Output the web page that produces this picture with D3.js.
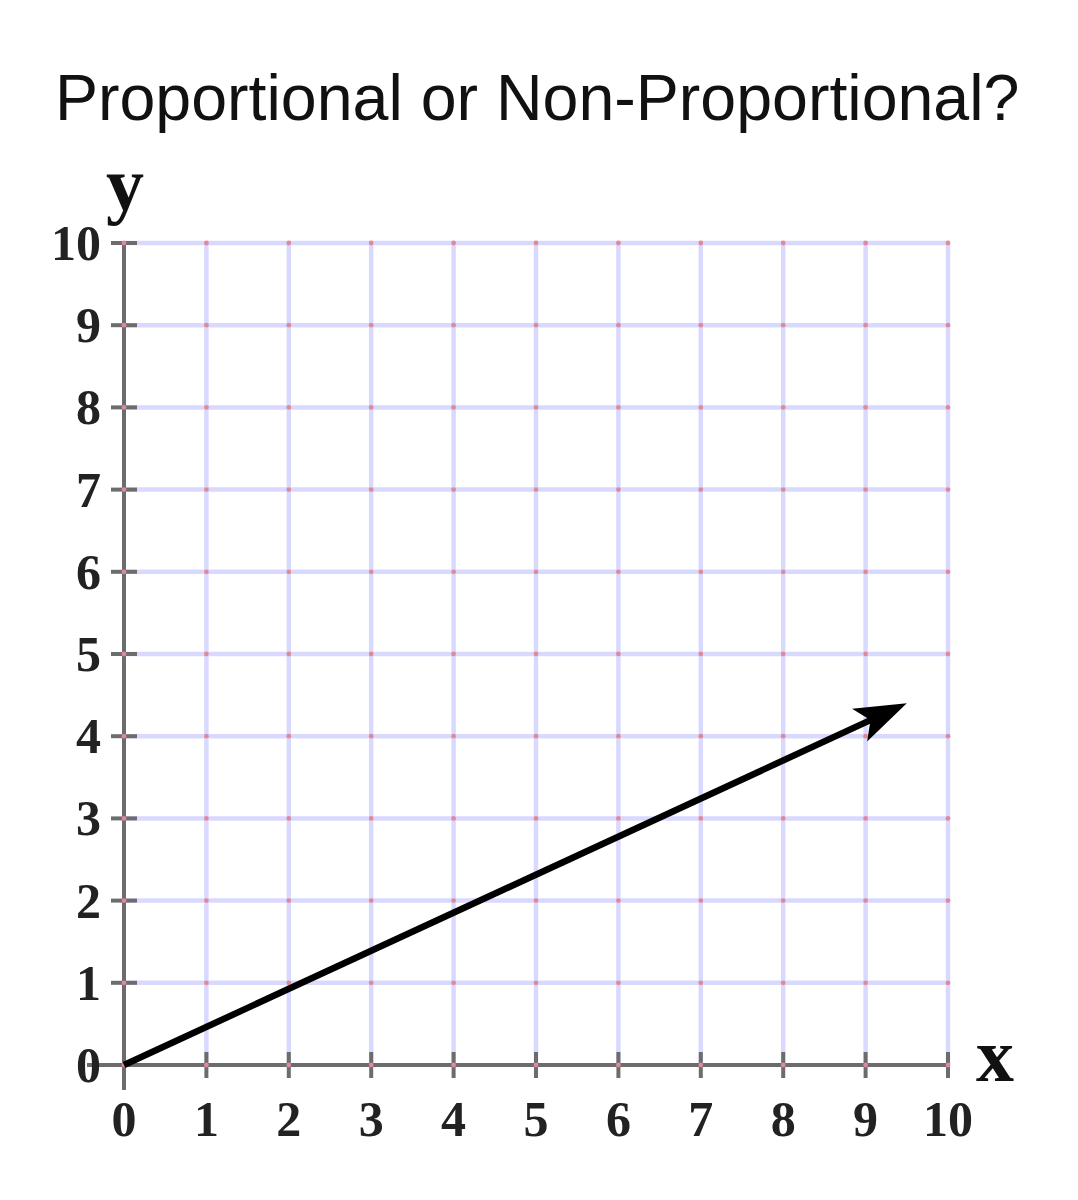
<!DOCTYPE html>
<html><head><meta charset="utf-8">
<script src="https://cdn.jsdelivr.net/npm/d3@7"></script>
<style>html,body{margin:0;padding:0;background:#fff;}svg{display:block;}</style>
</head><body>
<svg id="chart" width="1078" height="1200"></svg>
<script>
const title = "Proportional or Non-Proportional?";
const xTicks = [0,1,2,3,4,5,6,7,8,9,10];
const yTicks = [0,1,2,3,4,5,6,7,8,9,10];
const lineX = [0, 9.5];
const lineY = [0, 4.4];
const xAxisLabel = "x";
const yAxisLabel = "y";

const svg = d3.select("#chart");
const x = d3.scaleLinear().domain([0,10]).range([124,948]);
const y = d3.scaleLinear().domain([0,10]).range([1065,243]);

svg.append("text").attr("x",55).attr("y",120)
  .attr("font-family","Liberation Sans, Arial, sans-serif").attr("font-size",64.5)
  .attr("fill","#111").text(title);

// grid
const grid = svg.append("g");
grid.selectAll(".gx").data(xTicks.filter(d=>d>0)).join("line")
  .attr("x1",d=>x(d)).attr("x2",d=>x(d)).attr("y1",y(0)).attr("y2",y(10))
  .attr("stroke","#d9d9ff").attr("stroke-width",4.5);
grid.selectAll(".gy").data(yTicks.filter(d=>d>0)).join("line")
  .attr("y1",d=>y(d)).attr("y2",d=>y(d)).attr("x1",x(0)).attr("x2",x(10))
  .attr("stroke","#d9d9ff").attr("stroke-width",4.5);

// axes
const ax = svg.append("g").attr("stroke","#6c6c6c").attr("stroke-width",4);
ax.append("line").attr("x1",87).attr("x2",x(10)).attr("y1",y(0)).attr("y2",y(0));
ax.append("line").attr("x1",x(0)).attr("x2",x(0)).attr("y1",y(10)).attr("y2",1090);
ax.selectAll(".tx").data(xTicks.filter(d=>d>0)).join("line")
  .attr("x1",d=>x(d)).attr("x2",d=>x(d)).attr("y1",y(0)-13).attr("y2",y(0)+13);
ax.selectAll(".ty").data(yTicks.filter(d=>d>0)).join("line")
  .attr("y1",d=>y(d)).attr("y2",d=>y(d)).attr("x1",x(0)-13).attr("x2",x(0)+13);

// red dots at intersections
const pts = [];
xTicks.forEach(a=>yTicks.forEach(b=>pts.push([a,b])));
svg.append("g").selectAll("circle").data(pts).join("circle")
  .attr("cx",d=>x(d[0])).attr("cy",d=>y(d[1])).attr("r",2.4)
  .attr("fill","#e0899a");

// tick labels
const lf = "Liberation Serif, Times New Roman, serif";
svg.append("g").selectAll("text").data(xTicks).join("text")
  .attr("x",d=>x(d)).attr("y",1136).attr("text-anchor","middle")
  .attr("font-family",lf).attr("font-weight","bold").attr("font-size",50)
  .attr("fill","#222").text(d=>d);
svg.append("g").selectAll("text").data(yTicks).join("text")
  .attr("x",101).attr("y",d=>y(d)+17).attr("text-anchor","end")
  .attr("font-family",lf).attr("font-weight","bold").attr("font-size",50)
  .attr("fill","#222").text(d=>d);

svg.append("text").attr("x",125).attr("y",210).attr("text-anchor","middle")
  .attr("font-family",lf).attr("font-weight","bold").attr("font-size",76)
  .attr("fill","#111").text(yAxisLabel);
svg.append("text").attr("x",995).attr("y",1081).attr("text-anchor","middle")
  .attr("font-family",lf).attr("font-weight","bold").attr("font-size",76)
  .attr("fill","#111").text(xAxisLabel);

// arrow line
const data = lineX.map((d,i)=>[d,lineY[i]]);
const p0 = [x(data[0][0]), y(data[0][1])];
const p1 = [x(data[1][0]), y(data[1][1])];
const ang = Math.atan2(p1[1]-p0[1], p1[0]-p0[0]);
const trim = 30;
const pe = [p1[0]-trim*Math.cos(ang), p1[1]-trim*Math.sin(ang)];
svg.append("path").attr("d", d3.line()([p0, pe]))
  .attr("stroke","#000").attr("stroke-width",6.5).attr("fill","none");
svg.append("path")
  .attr("d","M0,0 L-52,-18 L-40,0 L-52,18 Z")
  .attr("transform",`translate(${p1[0]},${p1[1]}) rotate(${ang*180/Math.PI})`)
  .attr("fill","#000");
</script>
</body></html>
